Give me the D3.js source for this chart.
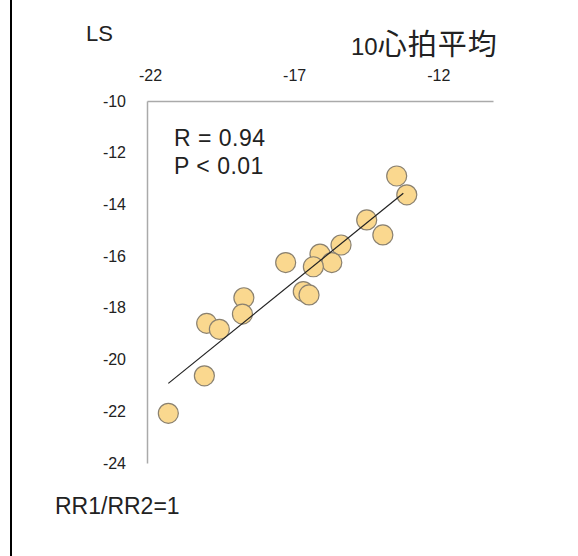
<!DOCTYPE html>
<html>
<head>
<meta charset="utf-8">
<script src="https://cdn.jsdelivr.net/npm/d3@7"></script>
<style>
  body { margin: 0; background: #fff; }
  svg text { font-family: "Liberation Sans", Arial, sans-serif; fill: #222; }
  .cjk { font-family: "Noto Sans CJK JP", sans-serif; }
</style>
</head>
<body>
<div id="chart"></div>
<script>
// 10-beat average, RR1/RR2 = 1
var xVals = [-13.34, -12.99, -14.38, -13.82, -15.27, -16.0, -15.59, -16.23, -17.19,
             -16.58, -16.38, -18.64, -18.69, -19.93, -19.49, -20.01, -21.26]
var yVals = [-12.90, -13.63, -14.60, -15.18, -15.57, -15.92, -16.25, -16.41, -16.25,
             -17.37, -17.50, -17.61, -18.24, -18.60, -18.83, -20.63, -22.08]
// regression line ends
var fitX = [-21.26, -13.11]
var fitY = [-20.92, -13.57]
var xTicks = [-22, -17, -12]
var yTicks = [-10, -12, -14, -16, -18, -20, -22, -24]

var width = 578, height = 556

var svg = d3.select('#chart').append('svg')
  .attr('width', width)
  .attr('height', height)

// frame line on the left
svg.append('line')
  .attr('x1', 11).attr('x2', 11)
  .attr('y1', 0).attr('y2', height)
  .attr('stroke', '#000')
  .attr('stroke-width', 2)

var x = d3.scaleLinear().domain([-22, -10]).range([147, 493])
var y = d3.scaleLinear().domain([-10, -24]).range([101, 463])

// plain hyphen minus, like the original
var fmt = function(d) { return String(d) }

// axes: top and left, no tick marks
var xAxis = svg.append('g')
  .attr('transform', 'translate(0,' + y(-10) + ')')
  .call(d3.axisTop(x).tickValues(xTicks).tickSize(0).tickPadding(0).tickFormat(fmt))
xAxis.select('.domain').attr('stroke', '#aaa').attr('stroke-width', 1.5)
xAxis.selectAll('text')
  .attr('y', -20)
  .attr('dy', 0)
  .attr('dx', 3)
  .style('font-size', '16px')

var yAxis = svg.append('g')
  .attr('transform', 'translate(' + x(-22) + ',0)')
  .call(d3.axisLeft(y).tickValues(yTicks).tickSize(0).tickPadding(0).tickFormat(fmt))
yAxis.select('.domain').attr('stroke', '#aaa').attr('stroke-width', 1.5)
yAxis.selectAll('text')
  .attr('x', -21)
  .style('font-size', '16px')

svg.selectAll('.tick text').attr('fill', '#222')

// points
var pts = d3.range(xVals.length).map(function(i) { return [xVals[i], yVals[i]] })
svg.append('g').selectAll('circle')
  .data(pts)
  .enter().append('circle')
  .attr('cx', function(d) { return x(d[0]) })
  .attr('cy', function(d) { return y(d[1]) })
  .attr('r', 10)
  .attr('fill', '#FAD88F')
  .attr('stroke', '#8a8170')
  .attr('stroke-width', 1.2)

// regression line on top
svg.append('line')
  .attr('x1', x(fitX[0])).attr('y1', y(fitY[0]))
  .attr('x2', x(fitX[1])).attr('y2', y(fitY[1]))
  .attr('stroke', '#222')
  .attr('stroke-width', 1.2)

// labels
svg.append('text').attr('x', 86).attr('y', 41).style('font-size', '22px').text('LS')
var title = svg.append('text').attr('x', 351).attr('y', 55)
title.append('tspan').style('font-size', '24px').text('10')
title.append('tspan').attr('class', 'cjk').style('font-size', '29px').style('letter-spacing', '1px').text('心拍平均')
svg.append('text').attr('x', 174).attr('y', 146).style('font-size', '23px').style('letter-spacing', '0.5px').text('R = 0.94')
svg.append('text').attr('x', 174).attr('y', 174).style('font-size', '23px').style('letter-spacing', '0.5px').text('P < 0.01')
svg.append('text').attr('x', 55).attr('y', 514).style('font-size', '23px').text('RR1/RR2=1')
</script>
</body>
</html>
